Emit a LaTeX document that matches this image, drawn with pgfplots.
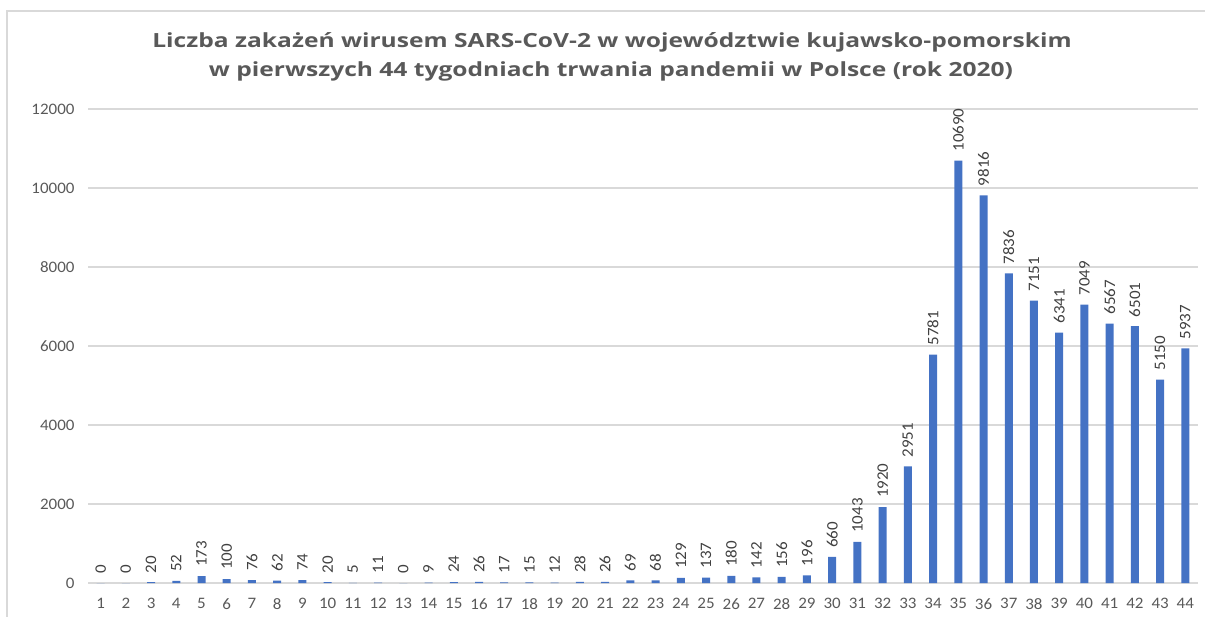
\documentclass[border=0pt]{standalone}
\usepackage{pgfplots}
\pgfplotsset{compat=1.18}
\usepackage{fontspec}
\setmainfont{Carlito}[FakeStretch=1.06]
\newfontfamily\titlefont{Open Sans}[FakeStretch=1.26]
\definecolor{barblue}{HTML}{4472C4}
\definecolor{gridgray}{HTML}{D9D9D9}
\definecolor{tickgray}{HTML}{595959}
\definecolor{labelgray}{HTML}{404040}
\definecolor{titlegray}{HTML}{595959}
\begin{document}
\begin{tikzpicture}
\useasboundingbox (0,0) rectangle (1205pt,-617pt);
\draw[color=gridgray, line width=1.2pt] (7pt,-620pt) -- (7pt,-11pt) -- (1210pt,-11pt);
\node[anchor=base, font=\titlefont\bfseries\fontsize{19.5}{23}\selectfont, text=titlegray] at (612pt,-48pt) {Liczba zakażeń wirusem SARS-CoV-2 w województwie kujawsko-pomorskim};
\node[anchor=base, font=\titlefont\bfseries\fontsize{19.5}{23}\selectfont, text=titlegray] at (611pt,-77pt) {w pierwszych 44 tygodniach trwania pandemii w Polsce (rok 2020)};
\begin{axis}[
  at={(88pt,-583pt)}, anchor=south west,
  scale only axis, width=1110pt, height=474pt,
  xmin=0.5, xmax=44.5, ymin=0, ymax=12000,
  ybar, bar width=8pt,
  xtick={1,...,44}, ytick={0,2000,...,12000},
  ymajorgrids, grid style={color=gridgray, line width=1.3pt},
  axis line style={draw=none},
  major tick length=0pt,
  /pgf/number format/assume math mode=true,
  scaled y ticks=false,
  yticklabel style={font=\fontsize{16}{16}\selectfont, text=tickgray, xshift=-10pt, /pgf/number format/1000 sep={}},
  xticklabel style={font=\fontsize{16}{16}\selectfont, text=tickgray, yshift=-12pt},
  nodes near coords,
  every node near coord/.append style={rotate=90, anchor=west, font=\fontsize{16}{16}\selectfont, text=labelgray, inner xsep=9pt, /pgf/number format/1000 sep={}, /pgf/number format/assume math mode=true},
]
\addplot[fill=barblue, draw=none] coordinates {
(1,0) (2,0) (3,20) (4,52) (5,173) (6,100) (7,76) (8,62) (9,74) (10,20)
(11,5) (12,11) (13,0) (14,9) (15,24) (16,26) (17,17) (18,15) (19,12) (20,28)
(21,26) (22,69) (23,68) (24,129) (25,137) (26,180) (27,142) (28,156) (29,196) (30,660)
(31,1043) (32,1920) (33,2951) (34,5781) (35,10690) (36,9816) (37,7836) (38,7151) (39,6341) (40,7049)
(41,6567) (42,6501) (43,5150) (44,5937)
};
\end{axis}
\end{tikzpicture}
\end{document}
